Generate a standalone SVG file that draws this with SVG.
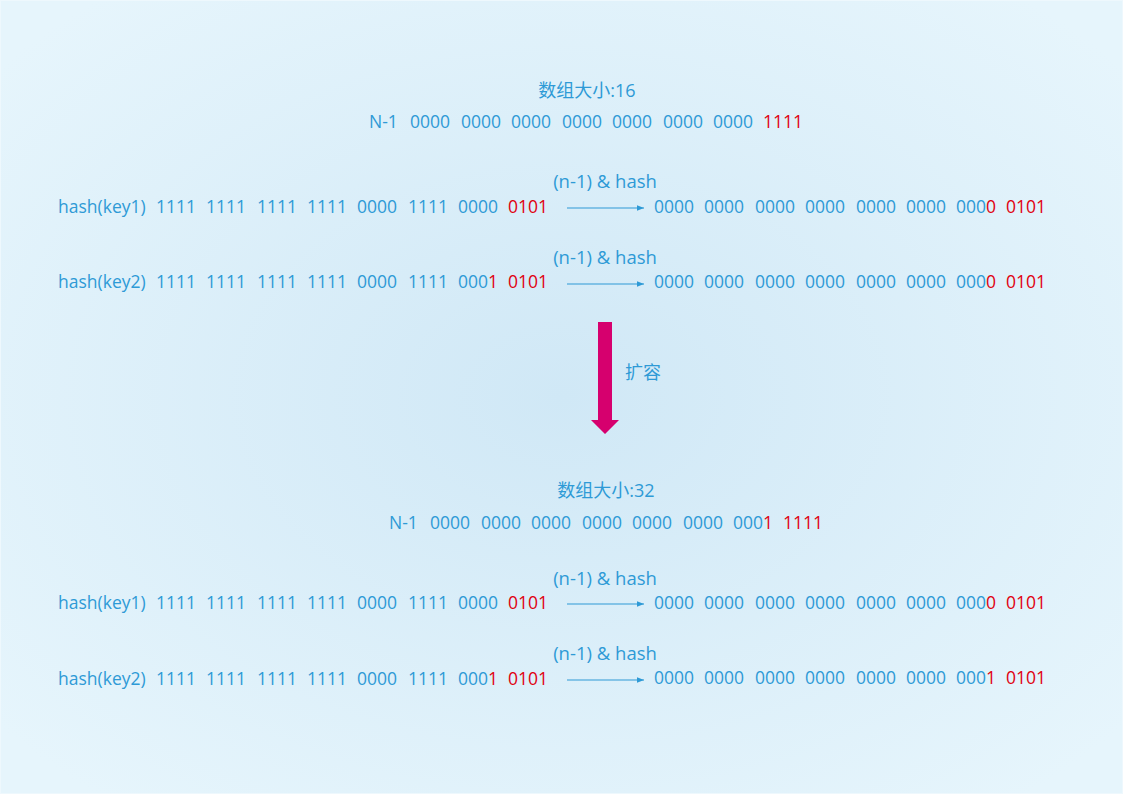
<svg xmlns="http://www.w3.org/2000/svg" width="1123" height="794" viewBox="0 0 1123 794">
<defs>
<radialGradient id="bg" cx="50%" cy="50%" r="65%">
<stop offset="0" stop-color="#d0e8f6"/>
<stop offset="1" stop-color="#e6f5fc"/>
</radialGradient>
<marker id="ah" viewBox="0 0 10 10" refX="10" refY="5" markerWidth="7" markerHeight="7" markerUnits="userSpaceOnUse" orient="auto">
<path d="M0,1 L10,5 L0,9 Z" fill="#2e9ad6"/>
</marker>
<style>
text{font-family:"Open Sans","Noto Sans","Noto Sans CJK SC",sans-serif;font-size:17.5px;fill:#2e9ad6}
.r{fill:#e0000f}
.lbl{text-anchor:middle}
.op{font-size:18.5px}
.ttl{font-size:18px}
.conn{stroke:#2e9ad6;stroke-width:1.2;fill:none}
</style>
</defs>
<rect x="0" y="0" width="1123" height="794" fill="url(#bg)"/>
<rect x="0.5" y="0.5" width="1122" height="793" fill="none" stroke="#eef8fd" stroke-width="1"/>

<g id="title16"><text x="587" y="97" class="lbl ttl">数组大小:16</text></g>
<g id="n1-16"><text y="128"><tspan x="369">N-1</tspan><tspan x="410">0000</tspan><tspan x="461">0000</tspan><tspan x="511">0000</tspan><tspan x="562">0000</tspan><tspan x="612">0000</tspan><tspan x="663">0000</tspan><tspan x="713">0000</tspan><tspan x="763" class="r">1111</tspan></text></g>

<g id="op1"><text x="605" y="188" class="lbl op">(n-1) &amp; hash</text></g>
<g id="row1"><text y="213"><tspan x="58">hash(key1)</tspan><tspan x="156">1111</tspan><tspan x="206">1111</tspan><tspan x="257">1111</tspan><tspan x="307">1111</tspan><tspan x="357">0000</tspan><tspan x="408">1111</tspan><tspan x="458">0000</tspan><tspan x="508" class="r">0101</tspan></text>
<text y="213"><tspan x="654">0000</tspan><tspan x="704">0000</tspan><tspan x="755">0000</tspan><tspan x="805">0000</tspan><tspan x="856">0000</tspan><tspan x="906">0000</tspan><tspan x="956">000</tspan><tspan class="r">0</tspan><tspan x="1006" class="r">0101</tspan></text></g>

<g id="op2"><text x="605" y="264" class="lbl op">(n-1) &amp; hash</text></g>
<g id="row2"><text y="288"><tspan x="58">hash(key2)</tspan><tspan x="156">1111</tspan><tspan x="206">1111</tspan><tspan x="257">1111</tspan><tspan x="307">1111</tspan><tspan x="357">0000</tspan><tspan x="408">1111</tspan><tspan x="458">000</tspan><tspan class="r">1</tspan><tspan x="508" class="r">0101</tspan></text>
<text y="288"><tspan x="654">0000</tspan><tspan x="704">0000</tspan><tspan x="755">0000</tspan><tspan x="805">0000</tspan><tspan x="856">0000</tspan><tspan x="906">0000</tspan><tspan x="956">000</tspan><tspan class="r">0</tspan><tspan x="1006" class="r">0101</tspan></text></g>

<g id="expand">
<path d="M598,322 H612 V420 H619 L605,434 L591,420 H598 Z" fill="#d6006e"/>
<text x="625" y="379" class="ttl">扩容</text>
</g>

<g id="title32"><text x="606" y="497" class="lbl ttl">数组大小:32</text></g>
<g id="n1-32"><text y="529"><tspan x="389">N-1</tspan><tspan x="430">0000</tspan><tspan x="481">0000</tspan><tspan x="531">0000</tspan><tspan x="582">0000</tspan><tspan x="632">0000</tspan><tspan x="683">0000</tspan><tspan x="733">000</tspan><tspan class="r">1</tspan><tspan x="783" class="r">1111</tspan></text></g>

<g id="op3"><text x="605" y="585" class="lbl op">(n-1) &amp; hash</text></g>
<g id="row3"><text y="609"><tspan x="58">hash(key1)</tspan><tspan x="156">1111</tspan><tspan x="206">1111</tspan><tspan x="257">1111</tspan><tspan x="307">1111</tspan><tspan x="357">0000</tspan><tspan x="408">1111</tspan><tspan x="458">0000</tspan><tspan x="508" class="r">0101</tspan></text>
<text y="609"><tspan x="654">0000</tspan><tspan x="704">0000</tspan><tspan x="755">0000</tspan><tspan x="805">0000</tspan><tspan x="856">0000</tspan><tspan x="906">0000</tspan><tspan x="956">000</tspan><tspan class="r">0</tspan><tspan x="1006" class="r">0101</tspan></text></g>

<g id="op4"><text x="605" y="660" class="lbl op">(n-1) &amp; hash</text></g>
<g id="row4"><text y="685"><tspan x="58">hash(key2)</tspan><tspan x="156">1111</tspan><tspan x="206">1111</tspan><tspan x="257">1111</tspan><tspan x="307">1111</tspan><tspan x="357">0000</tspan><tspan x="408">1111</tspan><tspan x="458">000</tspan><tspan class="r">1</tspan><tspan x="508" class="r">0101</tspan></text>
<text y="684"><tspan x="654">0000</tspan><tspan x="704">0000</tspan><tspan x="755">0000</tspan><tspan x="805">0000</tspan><tspan x="856">0000</tspan><tspan x="906">0000</tspan><tspan x="956">000</tspan><tspan class="r">1</tspan><tspan x="1006" class="r">0101</tspan></text></g>

<g id="connectors">
<line class="conn" x1="567" y1="208" x2="644" y2="208" marker-end="url(#ah)"/>
<line class="conn" x1="567" y1="284" x2="644" y2="284" marker-end="url(#ah)"/>
<line class="conn" x1="567" y1="604" x2="644" y2="604" marker-end="url(#ah)"/>
<line class="conn" x1="567" y1="680" x2="644" y2="680" marker-end="url(#ah)"/>
</g>
</svg>
